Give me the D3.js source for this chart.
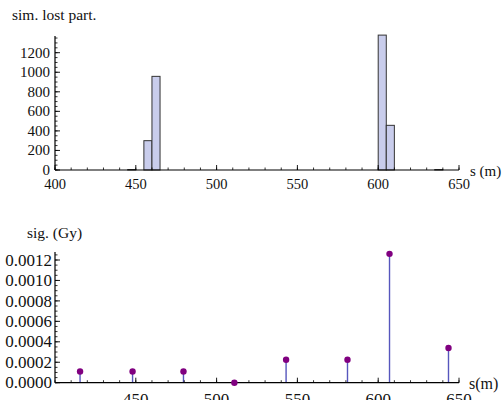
<!DOCTYPE html>
<html><head><meta charset="utf-8">
<script src="https://cdn.jsdelivr.net/npm/d3@7"></script>
<style>html,body{margin:0;padding:0;background:#fff;} svg{display:block;} text{font-family:"Liberation Serif","Times New Roman",serif;fill:#111;}</style>
</head><body>
<svg id="c" width="504" height="400"></svg>
<script>
// Top histogram: bins (start, end) and counts
const binStarts = [445, 455, 460, 600, 605, 635];
const binWidth = 5;
const binCounts = [5, 300, 958, 1380, 457, 5];
const topXTicks = [400, 450, 500, 550, 600, 650];
const topYTicks = [0, 200, 400, 600, 800, 1000, 1200];
// Bottom stem plot
const sigS = [415.5, 448, 479.5, 511, 543, 581, 607, 643.5];
const sigV = [0.00011, 0.00011, 0.00011, 0.0, 0.000225, 0.000225, 0.00126, 0.00034];
const botXTicks = [450, 500, 550, 600, 650];
const botYTicks = [0, 0.0002, 0.0004, 0.0006, 0.0008, 0.0010, 0.0012];

const svg = d3.select("#c");

function axes(g, x, y, xMinor, yMinor, yTop, fx, fy, xLabs, yLabs, xLabY, yLabX) {
  const [x0, x1] = x.range();
  const y0 = y(0);
  g.append("line").attr("x1", x0).attr("x2", x1).attr("y1", y0).attr("y2", y0).attr("stroke", "#000").attr("stroke-width", 1.2);
  g.append("line").attr("x1", x0).attr("x2", x0).attr("y1", y0).attr("y2", yTop).attr("stroke", "#000").attr("stroke-width", 1.2);
  g.selectAll(null).data(xMinor).join("line")
    .attr("x1", d => x(d)).attr("x2", d => x(d)).attr("y1", y0).attr("y2", y0 - 2.5).attr("stroke", "#000").attr("stroke-width", 0.8);
  g.selectAll(null).data(fx.ticks).join("line")
    .attr("x1", d => x(d)).attr("x2", d => x(d)).attr("y1", y0).attr("y2", y0 - 5).attr("stroke", "#000").attr("stroke-width", 0.9);
  g.selectAll(null).data(yMinor).join("line")
    .attr("x1", x0).attr("x2", x0 + 2.5).attr("y1", d => y(d)).attr("y2", d => y(d)).attr("stroke", "#000").attr("stroke-width", 0.8);
  g.selectAll(null).data(fy.ticks).join("line")
    .attr("x1", x0).attr("x2", x0 + 5).attr("y1", d => y(d)).attr("y2", d => y(d)).attr("stroke", "#000").attr("stroke-width", 0.9);
  g.selectAll(null).data(xLabs).join("text")
    .attr("x", d => x(d)).attr("y", xLabY).attr("text-anchor", "middle")
    .style("font-size", fx.size + "px").text(d => fx.fmt(d));
  g.selectAll(null).data(yLabs).join("text")
    .attr("x", yLabX).attr("y", d => y(d)).attr("dy", "0.33em").attr("text-anchor", "end")
    .style("font-size", fy.size + "px").text(d => fy.fmt(d));
}

// ---------- top ----------
const xT = d3.scaleLinear().domain([400, 650]).range([55, 459]);
const yT = d3.scaleLinear().domain([0, 1200]).range([170, 52.7]);
const gT = svg.append("g");
gT.selectAll("rect").data(binStarts).join("rect")
  .attr("x", (d) => xT(d)).attr("width", d => xT(d + binWidth) - xT(d))
  .attr("y", (d, i) => yT(binCounts[i])).attr("height", (d, i) => yT(0) - yT(binCounts[i]))
  .attr("fill", "#c9cdec").attr("stroke", "#333").attr("stroke-width", 1);
axes(gT, xT, yT, d3.range(400, 651, 10), d3.range(0, 1351, 50), 36,
  {ticks: topXTicks, size: 14.5, fmt: d => d},
  {ticks: topYTicks, size: 15, fmt: d => d},
  topXTicks, topYTicks, 188.5, 50);
gT.append("text").attr("x", 12).attr("y", 20).style("font-size", "15.5px").text("sim. lost part.");
gT.append("text").attr("x", 470).attr("y", 176).style("font-size", "15px").text("s (m)");

// ---------- bottom ----------
const xB = d3.scaleLinear().domain([400, 650]).range([55, 459]);
const yB = d3.scaleLinear().domain([0, 0.0012]).range([382.7, 260]);
const gB = svg.append("g");
gB.selectAll("line.stem").data(sigS).join("line").attr("class", "stem")
  .attr("x1", d => xB(d)).attr("x2", d => xB(d))
  .attr("y1", yB(0)).attr("y2", (d, i) => yB(sigV[i]))
  .attr("stroke", "#5656bd").attr("stroke-width", 1.4);
axes(gB, xB, yB, d3.range(400, 651, 10), d3.range(0, 0.00126, 0.00005), 252,
  {ticks: botXTicks, size: 17, fmt: d => d},
  {ticks: botYTicks, size: 17, fmt: d => d.toFixed(4)},
  botXTicks, botYTicks, 405, 52);
gB.selectAll("circle").data(sigS).join("circle")
  .attr("cx", d => xB(d)).attr("cy", (d, i) => yB(sigV[i])).attr("r", 3.2)
  .attr("fill", "#800080");
gB.append("text").attr("x", 27).attr("y", 238).style("font-size", "15.5px").text("sig. (Gy)");
gB.append("text").attr("x", 469).attr("y", 389).style("font-size", "16px").text("s(m)");
</script>
</body></html>
